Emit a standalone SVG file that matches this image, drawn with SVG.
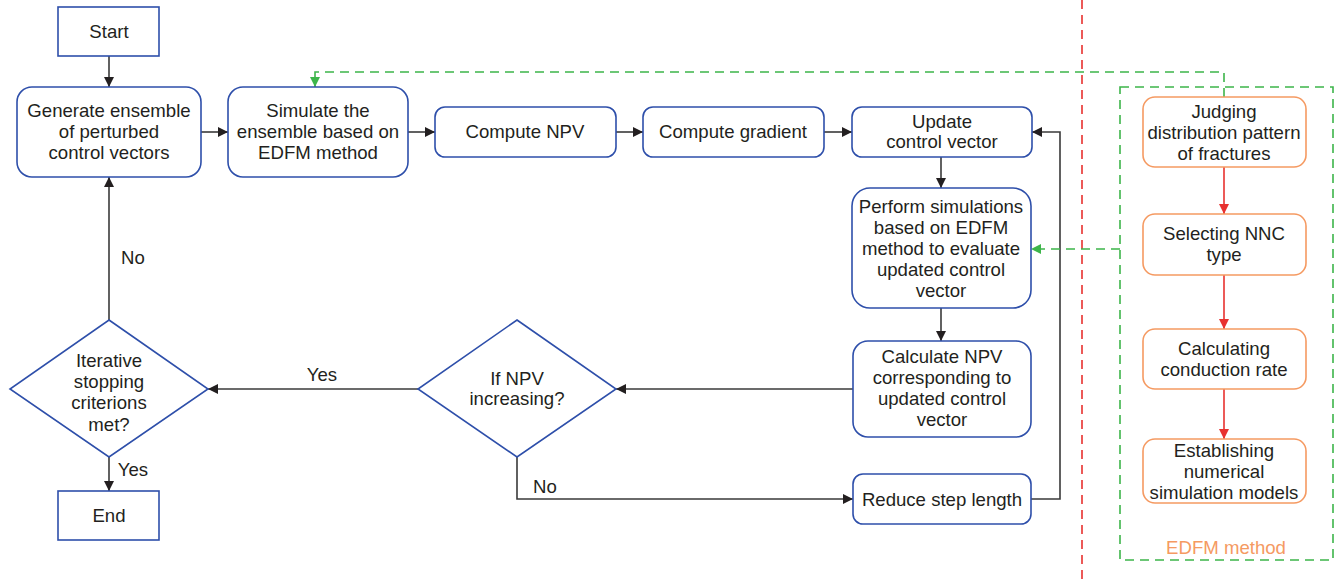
<svg xmlns="http://www.w3.org/2000/svg" width="1338" height="583" viewBox="0 0 1338 583">
<defs>
<style>
text{font-family:"Liberation Sans",Arial,sans-serif;font-size:18.6px;fill:#231f20;text-anchor:middle}
.b{fill:#fff;stroke:#2e4faa;stroke-width:1.6}
.o{fill:#fff;stroke:#f59a62;stroke-width:1.6}
.c{fill:none;stroke:#3a3a3a;stroke-width:1.6}
.r{fill:none;stroke:#e8312f;stroke-width:1.6}
.g{fill:none;stroke:#3db54a;stroke-width:1.6;stroke-dasharray:9 6}
.rd{fill:none;stroke:#e8312f;stroke-width:1.6;stroke-dasharray:9 6}
.ot{fill:#f59a62}
</style>
<marker id="ak" markerWidth="10" markerHeight="10" refX="10" refY="5" orient="auto" markerUnits="userSpaceOnUse"><path d="M0,0 L10,5 L0,10 z" fill="#231f20"/></marker>
<marker id="ar" markerWidth="10" markerHeight="10" refX="10" refY="5" orient="auto" markerUnits="userSpaceOnUse"><path d="M0,0 L10,5 L0,10 z" fill="#e8312f"/></marker>
<marker id="ag" markerWidth="10" markerHeight="10" refX="10" refY="5" orient="auto" markerUnits="userSpaceOnUse"><path d="M0,0 L10,5 L0,10 z" fill="#3db54a"/></marker>
</defs>
<rect width="1338" height="583" fill="#fff"/>
<line class="rd" x1="1082" y1="0" x2="1082" y2="583"/>
<rect class="g" x="1120" y="87" width="213" height="473"/>
<text x="1226" y="554" class="ot">EDFM method</text>
<g id="connectors">
<line class="c" x1="109" y1="56" x2="109" y2="87" marker-end="url(#ak)"/>
<line class="c" x1="201" y1="132" x2="228" y2="132" marker-end="url(#ak)"/>
<line class="c" x1="408" y1="132" x2="435" y2="132" marker-end="url(#ak)"/>
<line class="c" x1="616" y1="132" x2="643" y2="132" marker-end="url(#ak)"/>
<line class="c" x1="824" y1="132" x2="852" y2="132" marker-end="url(#ak)"/>
<line class="c" x1="941" y1="157" x2="941" y2="188" marker-end="url(#ak)"/>
<line class="c" x1="941" y1="308" x2="941" y2="341" marker-end="url(#ak)"/>
<line class="c" x1="853" y1="389" x2="616" y2="389" marker-end="url(#ak)"/>
<line class="c" x1="418" y1="389" x2="208" y2="389" marker-end="url(#ak)"/>
<line class="c" x1="109" y1="457" x2="109" y2="491" marker-end="url(#ak)"/>
<line class="c" x1="109" y1="320" x2="109" y2="177" marker-end="url(#ak)"/>
<polyline class="c" points="517,457 517,499 853,499" marker-end="url(#ak)"/>
<polyline class="c" points="1031,499 1060,499 1060,132 1032,132" marker-end="url(#ak)"/>
<line class="r" x1="1224" y1="167" x2="1224" y2="214" marker-end="url(#ar)"/>
<line class="r" x1="1224" y1="275" x2="1224" y2="329" marker-end="url(#ar)"/>
<line class="r" x1="1224" y1="389" x2="1224" y2="439" marker-end="url(#ar)"/>
<polyline class="g" points="1224,97 1224,72 315,72 315,87" marker-end="url(#ag)"/>
<line class="g" x1="1120" y1="249" x2="1031" y2="249" marker-end="url(#ag)"/>
<text x="322" y="381">Yes</text>
<text x="133" y="476">Yes</text>
<text x="133" y="264">No</text>
<text x="545" y="493">No</text>
</g>
<g id="start"><rect class="b" x="58" y="7" width="101" height="49"/><text x="109" y="38">Start</text></g>
<g id="generate"><rect class="b" x="17" y="87" width="184" height="90" rx="15"/><text x="109" y="117">Generate ensemble</text><text x="109" y="138">of perturbed</text><text x="109" y="159">control vectors</text></g>
<g id="simulate"><rect class="b" x="228" y="87" width="180" height="90" rx="15"/><text x="318" y="117">Simulate the</text><text x="318" y="138">ensemble based on</text><text x="318" y="159">EDFM method</text></g>
<g id="npv"><rect class="b" x="435" y="107" width="181" height="50" rx="10"/><text x="525" y="138">Compute NPV</text></g>
<g id="gradient"><rect class="b" x="643" y="107" width="181" height="50" rx="10"/><text x="733" y="138">Compute gradient</text></g>
<g id="update"><rect class="b" x="852" y="107" width="180" height="50" rx="10"/><text x="942" y="128">Update</text><text x="942" y="148">control vector</text></g>
<g id="perform"><rect class="b" x="852" y="188" width="179" height="120" rx="18"/><text x="941" y="213">Perform simulations</text><text x="941" y="234">based on EDFM</text><text x="941" y="255">method to evaluate</text><text x="941" y="276">updated control</text><text x="941" y="297">vector</text></g>
<g id="calcnpv"><rect class="b" x="853" y="341" width="178" height="96" rx="15"/><text x="942" y="363">Calculate NPV</text><text x="942" y="384">corresponding to</text><text x="942" y="405">updated control</text><text x="942" y="426">vector</text></g>
<g id="reduce"><rect class="b" x="853" y="474" width="178" height="50" rx="10"/><text x="942" y="506">Reduce step length</text></g>
<g id="ifnpv"><polygon class="b" points="517,320 616,389 517,457 418,389"/><text x="517" y="385">If NPV</text><text x="517" y="405">increasing?</text></g>
<g id="iterative"><polygon class="b" points="109,320 208,389 109,457 10,389"/><text x="109" y="367">Iterative</text><text x="109" y="388">stopping</text><text x="109" y="409">criterions</text><text x="109" y="431">met?</text></g>
<g id="end"><rect class="b" x="58" y="491" width="101" height="49"/><text x="109" y="522">End</text></g>
<g id="judging"><rect class="o" x="1143" y="97" width="163" height="70" rx="12"/><text x="1224" y="118">Judging</text><text x="1224" y="139">distribution pattern</text><text x="1224" y="160">of fractures</text></g>
<g id="selecting"><rect class="o" x="1143" y="214" width="163" height="61" rx="12"/><text x="1224" y="240">Selecting NNC</text><text x="1224" y="261">type</text></g>
<g id="calculating"><rect class="o" x="1143" y="329" width="163" height="60" rx="12"/><text x="1224" y="355">Calculating</text><text x="1224" y="376">conduction rate</text></g>
<g id="establishing"><rect class="o" x="1143" y="439" width="163" height="64" rx="12"/><text x="1224" y="457">Establishing</text><text x="1224" y="478">numerical</text><text x="1224" y="499">simulation models</text></g>
</svg>
